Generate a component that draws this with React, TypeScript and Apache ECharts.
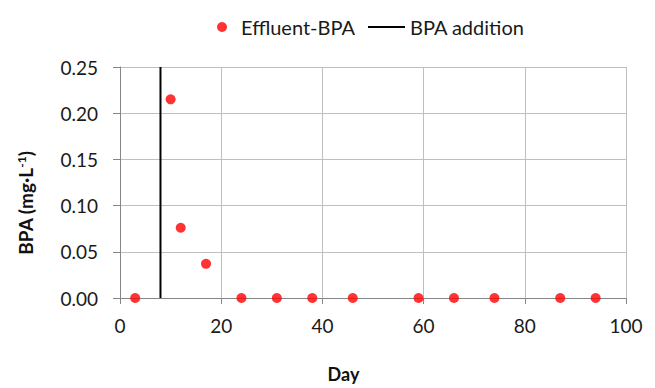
import React, { useEffect, useRef } from "react";
import * as echarts from "echarts";

const days = [3, 10, 12, 17, 24, 31, 38, 46, 59, 66, 74, 87, 94];
const effluentBPA = [0, 0.215, 0.076, 0.037, 0, 0, 0, 0, 0, 0, 0, 0, 0];
const additionDay = 8;
const yRange = [0, 0.25];

export default function App() {
  const ref = useRef<HTMLDivElement>(null);
  useEffect(() => {
    const chart = echarts.init(ref.current!, null, { renderer: "svg" });
    const font = "Lato";
    chart.setOption({
      animation: false,
      textStyle: { fontFamily: font },
      legend: [
        {
          left: 212,
          top: 12,
          itemWidth: 10,
          itemHeight: 10,
          data: [{ name: "Effluent-BPA", icon: "circle" }],
          textStyle: { fontSize: 20, color: "#1a1a1a", fontFamily: font, padding: [0, 0, 0, 9] },
        },
        {
          left: 363,
          top: 12,
          itemWidth: 37,
          itemHeight: 2,
          data: [{ name: "BPA addition", icon: "rect", itemStyle: { color: "#000" } }],
          textStyle: { fontSize: 20, color: "#1a1a1a", fontFamily: font },
        },
      ],
      grid: { left: 120, right: 29, top: 67, bottom: 90, outerBoundsMode: "none", containLabel: false },
      xAxis: {
        type: "value",
        min: 0,
        max: 100,
        interval: 20,
        name: "Day",
        nameLocation: "middle",
        nameGap: 67,
        nameTextStyle: { fontSize: 18, fontWeight: "bold", color: "#111", padding: [0, 59, 0, 0] },
        axisLine: { show: true, lineStyle: { color: "#868686", width: 1 } },
        axisTick: { show: true, inside: false, length: 6, lineStyle: { color: "#868686" } },
        axisLabel: { fontSize: 19, color: "#1a1a1a", margin: 18 },
        splitLine: { show: true, lineStyle: { color: "#bfbfbf", width: 1 } },
      },
      yAxis: {
        type: "value",
        min: yRange[0],
        max: yRange[1],
        interval: 0.05,
        name: "{n|BPA (mg·L}{s|-1}{n|)}",
        nameLocation: "middle",
        nameGap: 84,
        nameRotate: 90,
        nameTextStyle: {
          padding: [0, 41, 0, 0],
          rich: {
            n: { fontSize: 19, fontWeight: "bold", color: "#111", fontFamily: font },
            s: { fontSize: 12, fontWeight: "bold", color: "#111", fontFamily: font, padding: [0, 0, 9, 0] },
          },
        },
        axisLine: { show: true, lineStyle: { color: "#868686", width: 1 } },
        axisTick: { show: true, inside: false, length: 7, lineStyle: { color: "#868686" } },
        axisLabel: {
          fontSize: 19,
          color: "#1a1a1a",
          margin: 22,
          formatter: (v: number) => v.toFixed(2),
        },
        splitLine: { show: true, lineStyle: { color: "#bfbfbf", width: 1 } },
      },
      series: [
        {
          name: "Effluent-BPA",
          type: "scatter",
          symbol: "circle",
          symbolSize: 10,
          itemStyle: { color: "#ff0000" },
          data: days.map((d, i) => [d, effluentBPA[i]]),
          z: 3,
        },
        {
          name: "BPA addition",
          type: "line",
          symbol: "none",
          lineStyle: { color: "#000", width: 2 },
          itemStyle: { color: "#000" },
          data: [
            [additionDay, yRange[0]],
            [additionDay, yRange[1]],
          ],
          z: 2,
        },
      ],
    });
    return () => chart.dispose();
  }, []);
  return (
    <div
      ref={ref}
      style={{ position: "fixed", left: 0, top: 0, width: 655, height: 388, background: "#fff" }}
    />
  );
}
